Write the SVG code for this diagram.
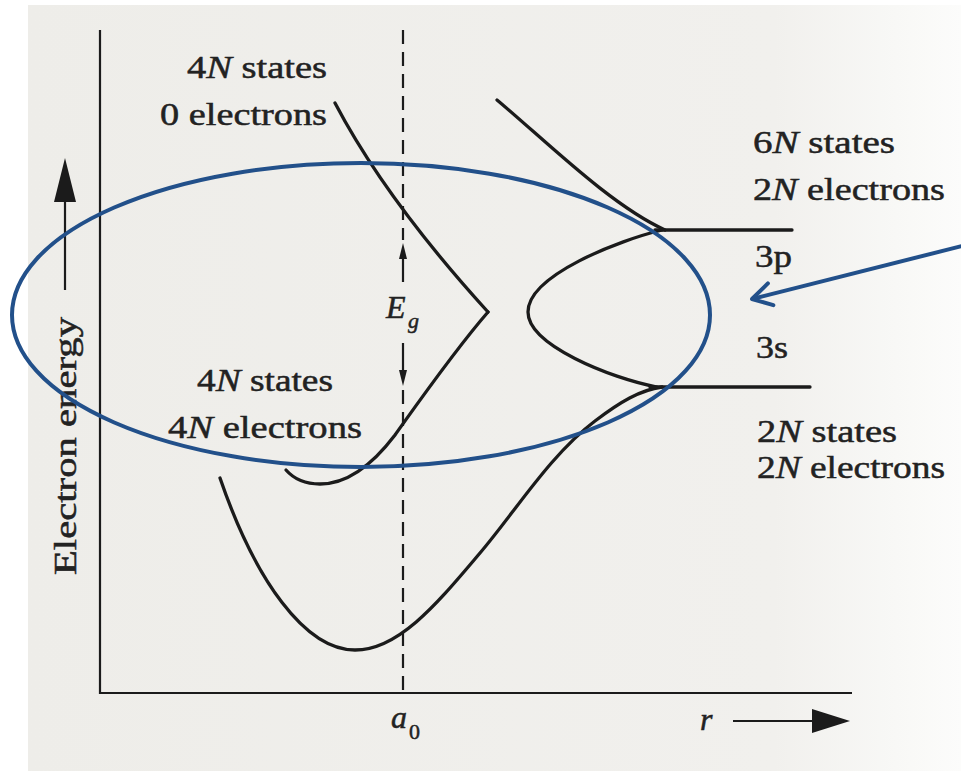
<svg xmlns="http://www.w3.org/2000/svg" width="961" height="771" viewBox="0 0 961 771">
<defs>
<linearGradient id="paper" x1="0" y1="0" x2="1" y2="0">
<stop offset="0" stop-color="#eeede9"/>
<stop offset="0.8" stop-color="#f1f0ed"/>
<stop offset="0.93" stop-color="#f8f8f6"/>
<stop offset="1" stop-color="#fcfcfb"/>
</linearGradient>
<marker id="openHead" markerWidth="10" markerHeight="12" refX="9" refY="6" orient="auto" markerUnits="userSpaceOnUse" viewBox="0 0 10 12" overflow="visible">
<path d="M-12,-7 L0,0 L-12,7" transform="translate(9,6) scale(1.6)" fill="none" stroke="#22508a" stroke-width="2.5" stroke-linecap="round" stroke-linejoin="round"/>
</marker>
</defs>
<style>
.ink{fill:none;stroke:#1b1b1b;stroke-width:3.3;stroke-linecap:round;stroke-linejoin:round}
.axis{fill:none;stroke:#1b1b1b;stroke-width:2.2}
.head{fill:#1b1b1b;stroke:none}
.lbl{font-family:"Liberation Serif","Times New Roman",serif;font-size:32px;fill:#222222;stroke:#222222;stroke-width:0.5}
.it{font-style:italic}
.sub{font-size:22px}
.blue{fill:none;stroke:#22508a;stroke-width:4}
</style>
<rect x="0" y="0" width="961" height="771" fill="#ffffff"/>
<rect x="28" y="5" width="933" height="766" fill="url(#paper)"/>

<g id="axes">
<line class="axis" x1="100" y1="30" x2="100" y2="694"/>
<line class="axis" x1="99" y1="693" x2="852" y2="693"/>
<line class="axis" x1="403" y1="30" x2="403" y2="240" stroke-dasharray="14 8"/>
<line class="axis" x1="403" y1="390" x2="403" y2="694" stroke-dasharray="14 8"/>
</g>

<g id="energy-axis">
<line class="axis" x1="65" y1="290" x2="65" y2="198" stroke-width="3.5"/>
<polygon class="head" points="65,158 54,202 76,202"/>
<text class="lbl" transform="translate(76,575) rotate(-90)" font-size="33" textLength="258" lengthAdjust="spacingAndGlyphs">Electron energy</text>
</g>

<g id="r-axis">
<line class="axis" x1="733" y1="721" x2="814" y2="721" stroke-width="3.5"/>
<polygon class="head" points="850,721 812,709 812,733"/>
<text class="lbl it" x="700" y="730">r</text>
</g>

<g id="a0-label">
<text class="lbl" x="391" y="728"><tspan class="it">a</tspan></text>
<text class="lbl sub" x="409" y="739">0</text>
</g>

<g id="gap">
<line class="axis" x1="403" y1="256" x2="403" y2="282"/>
<polygon class="head" points="403,243 399,259 407,259"/>
<line class="axis" x1="403" y1="343" x2="403" y2="372"/>
<polygon class="head" points="403,386 399,370 407,370"/>
<text class="lbl it" x="386" y="318">E</text>
<text class="lbl it sub" x="408" y="328">g</text>
</g>

<g id="band-3s3p-split">
<path class="ink" d="M335,103 Q386,200 488,312"/>
<path class="ink" d="M488,312 C455,350 420,400 395,435 C370,468 345,484 320,484 C305,484 293,478 286,470"/>
</g>

<g id="band-3p">
<path class="ink" d="M497,100 C545,140 610,205 665,230"/>
<path class="ink" d="M662,230 C620,240 528,275 528,312 C528,345 610,378 657,387"/>
<line class="ink" x1="655" y1="230" x2="792" y2="230"/>
</g>

<g id="band-3s">
<path class="ink" d="M220,478 C255,580 305,650 355,650 C400,650 440,600 480,553 C515,512 550,455 595,421 C620,402 640,390 662,387"/>
<line class="ink" x1="650" y1="387" x2="810" y2="387"/>
</g>

<g id="labels">
<text class="lbl" x="187" y="78" textLength="140" lengthAdjust="spacingAndGlyphs">4<tspan class="it">N</tspan> states</text>
<text class="lbl" x="160" y="125" textLength="167" lengthAdjust="spacingAndGlyphs">0 electrons</text>
<text class="lbl" x="197" y="391" textLength="136" lengthAdjust="spacingAndGlyphs">4<tspan class="it">N</tspan> states</text>
<text class="lbl" x="168" y="438" textLength="194" lengthAdjust="spacingAndGlyphs">4<tspan class="it">N</tspan> electrons</text>
<text class="lbl" x="753" y="153" textLength="142" lengthAdjust="spacingAndGlyphs">6<tspan class="it">N</tspan> states</text>
<text class="lbl" x="753" y="200" textLength="192" lengthAdjust="spacingAndGlyphs">2<tspan class="it">N</tspan> electrons</text>
<text class="lbl" x="755" y="267" textLength="37" lengthAdjust="spacingAndGlyphs">3p</text>
<text class="lbl" x="756" y="358" textLength="32" lengthAdjust="spacingAndGlyphs">3s</text>
<text class="lbl" x="757" y="442" textLength="140" lengthAdjust="spacingAndGlyphs">2<tspan class="it">N</tspan> states</text>
<text class="lbl" x="757" y="478" textLength="188" lengthAdjust="spacingAndGlyphs">2<tspan class="it">N</tspan> electrons</text>
</g>

<g id="connectors">
<ellipse id="highlight" class="blue" cx="361" cy="315" rx="349" ry="152"/>
<line id="pointer" class="blue" x1="962" y1="246" x2="752" y2="299" marker-end="url(#openHead)"/>
</g>
</svg>
